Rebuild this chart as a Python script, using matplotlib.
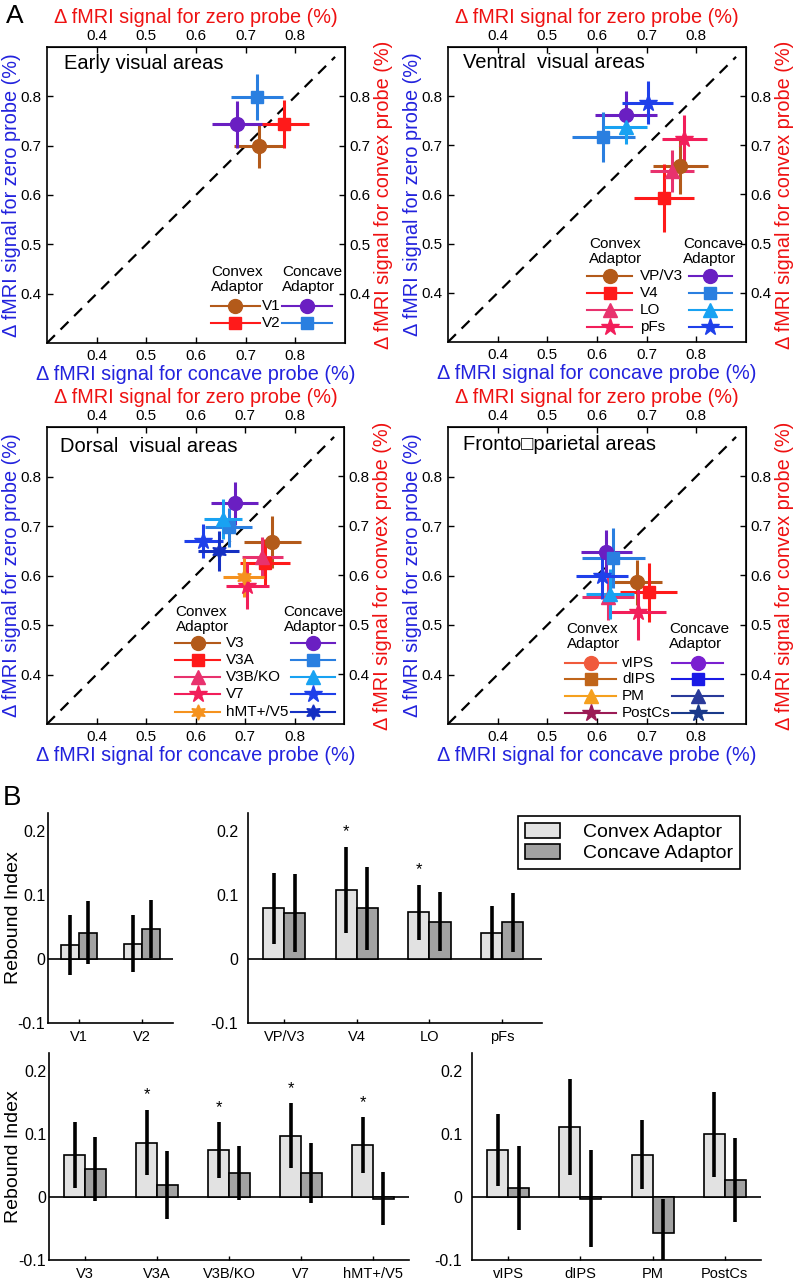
import numpy as np
import matplotlib
matplotlib.use("Agg")
import matplotlib.pyplot as plt
from matplotlib.patches import Patch

plt.rcParams["font.family"] = ["Liberation Sans", "DejaVu Sans"]
plt.rcParams["axes.unicode_minus"] = False

W, H = 795, 1280

# ---------------- panel A data ----------------
early_regions = ["V1", "V2"]
early_cvx_x = [0.727, 0.778]
early_cvx_y = [0.699, 0.744]
early_cvx_xerr = [0.050, 0.050]
early_cvx_yerr = [0.044, 0.049]
early_ccv_x = [0.682, 0.723]
early_ccv_y = [0.743, 0.799]
early_ccv_xerr = [0.050, 0.052]
early_ccv_yerr = [0.047, 0.047]

ventral_regions = ["VP/V3", "V4", "LO", "pFs"]
ventral_cvx_x = [0.768, 0.735, 0.751, 0.776]
ventral_cvx_y = [0.657, 0.593, 0.648, 0.712]
ventral_cvx_xerr = [0.055, 0.060, 0.045, 0.045]
ventral_cvx_yerr = [0.055, 0.070, 0.042, 0.049]
ventral_ccv_x = [0.658, 0.613, 0.658, 0.702]
ventral_ccv_y = [0.762, 0.717, 0.737, 0.787]
ventral_ccv_xerr = [0.063, 0.064, 0.043, 0.051]
ventral_ccv_yerr = [0.049, 0.051, 0.035, 0.044]

dorsal_regions = ["V3", "V3A", "V3B/KO", "V7", "hMT+/V5"]
dorsal_cvx_x = [0.755, 0.740, 0.735, 0.705, 0.697]
dorsal_cvx_y = [0.668, 0.625, 0.637, 0.579, 0.596]
dorsal_cvx_xerr = [0.058, 0.050, 0.042, 0.044, 0.041]
dorsal_cvx_yerr = [0.053, 0.048, 0.040, 0.047, 0.040]
dorsal_ccv_x = [0.679, 0.667, 0.655, 0.616, 0.647]
dorsal_ccv_y = [0.746, 0.697, 0.714, 0.670, 0.650]
dorsal_ccv_xerr = [0.047, 0.048, 0.038, 0.040, 0.041]
dorsal_ccv_yerr = [0.043, 0.040, 0.040, 0.034, 0.040]

fronto_regions = ["vIPS", "dIPS", "PM", "PostCs"]
fronto_cvx_x = [0.680, 0.704, 0.622, 0.682]
fronto_cvx_y = [0.586, 0.566, 0.556, 0.526]
fronto_cvx_xerr = [0.051, 0.058, 0.052, 0.056]
fronto_cvx_yerr = [0.045, 0.060, 0.045, 0.057]
fronto_ccv_x = [0.619, 0.633, 0.626, 0.610]
fronto_ccv_y = [0.647, 0.635, 0.563, 0.600]
fronto_ccv_xerr = [0.051, 0.063, 0.048, 0.053]
fronto_ccv_yerr = [0.045, 0.060, 0.050, 0.047]

# ---------------- panel B data ----------------
early_bar_labels = ["V1", "V2"]
early_bar_cvx = [0.022, 0.024]
early_bar_cvx_err = [0.047, 0.045]
early_bar_ccv = [0.041, 0.047]
early_bar_ccv_err = [0.049, 0.045]
early_bar_stars = [False, False]

ventral_bar_labels = ["VP/V3", "V4", "LO", "pFs"]
ventral_bar_cvx = [0.079, 0.108, 0.073, 0.041]
ventral_bar_cvx_err = [0.056, 0.067, 0.043, 0.041]
ventral_bar_ccv = [0.072, 0.079, 0.058, 0.057]
ventral_bar_ccv_err = [0.061, 0.065, 0.046, 0.046]
ventral_bar_stars = [False, True, True, False]

dorsal_bar_labels = ["V3", "V3A", "V3B/KO", "V7", "hMT+/V5"]
dorsal_bar_cvx = [0.066, 0.086, 0.074, 0.097, 0.082]
dorsal_bar_cvx_err = [0.052, 0.052, 0.044, 0.051, 0.044]
dorsal_bar_ccv = [0.044, 0.019, 0.038, 0.038, -0.003]
dorsal_bar_ccv_err = [0.051, 0.054, 0.043, 0.047, 0.042]
dorsal_bar_stars = [False, True, True, True, True]

fronto_bar_labels = ["vIPS", "dIPS", "PM", "PostCs"]
fronto_bar_cvx = [0.075, 0.111, 0.067, 0.099]
fronto_bar_cvx_err = [0.057, 0.076, 0.055, 0.067]
fronto_bar_ccv = [0.014, -0.003, -0.058, 0.027]
fronto_bar_ccv_err = [0.067, 0.077, 0.055, 0.067]
fronto_bar_stars = [False, False, False, False]

# ---------------- styles ----------------
brown, red, pink, crimson, orange = "#B35A1A", "#FF1A1A", "#E8326E", "#F21E5A", "#F5921E"
purple, medblue, ltblue, blue, dkblue = "#6A1FC2", "#2A7FE0", "#18A2F2", "#1F40EA", "#1530C2"
star6 = (6, 1, 0)
mk4 = ["o", "s", "^", "*"]
mk5 = ["o", "s", "^", "*", star6]
msz = {"o": 10, "s": 8.5, "^": 10, "*": 13, star6: 11}
lab_blue = "#2222DD"
lab_red = "#EE1111"
light_gray, dark_gray = "#E2E2E2", "#A2A2A2"
lab_fs, tick_fs, title_fs, leg_fs = 14.3, 11, 14.5, 11

fig = plt.figure(figsize=(W / 100, H / 100), dpi=100)


def px_axes(left, top, right, bottom):
    return fig.add_axes([left / W, 1 - bottom / H, (right - left) / W, (bottom - top) / H])


def scatter_panel(box, title, title_pos, regions, cvx, ccv, cvx_col, ccv_col, markers,
                  leg, leg_cvx_col=None, leg_ccv_col=None):
    ax = px_axes(*box)
    ax.set_xlim(0.3, 0.9)
    ax.set_ylim(0.3, 0.9)
    ticks = [0.4, 0.5, 0.6, 0.7, 0.8]
    ax.set_xticks(ticks)
    ax.set_yticks(ticks)
    ax.tick_params(direction="in", length=4, width=1, labelsize=tick_fs, pad=4)
    for s in ax.spines.values():
        s.set_linewidth(1.2)
    ax.plot([0.3, 0.88], [0.3, 0.88], color="black", lw=1.6, dashes=[5, 3.6])

    for data, cols in ((cvx, cvx_col), (ccv, ccv_col)):
        for i in range(len(regions)):
            m = markers[i]
            ax.errorbar(data[0][i], data[1][i], xerr=data[2][i], yerr=data[3][i], fmt="none",
                        ecolor=cols[i], elinewidth=2.2, capsize=0, zorder=3)
            ax.plot(data[0][i], data[1][i], marker=m, ms=msz[m], color=cols[i],
                    linestyle="none", zorder=4)

    ax.text(title_pos[0], title_pos[1], title, transform=ax.transAxes, fontsize=title_fs,
            va="center", ha="left")
    ax.set_xlabel("\u0394 fMRI signal for concave probe (%)", color=lab_blue, fontsize=lab_fs, labelpad=2)
    ax.set_ylabel("\u0394 fMRI signal for zero probe (%)", color=lab_blue, fontsize=lab_fs)
    ax.yaxis.set_label_coords(-0.086, 0.5)

    top = ax.secondary_xaxis("top")
    top.set_xticks(ticks)
    top.tick_params(direction="in", length=4, width=1, labelsize=tick_fs, pad=3)
    top.set_xlabel("\u0394 fMRI signal for zero probe (%)", color=lab_red, fontsize=lab_fs, labelpad=4)
    right = ax.secondary_yaxis("right")
    right.set_yticks(ticks)
    right.tick_params(direction="in", length=4, width=1, labelsize=tick_fs, pad=3)
    right.set_ylabel("\u0394 fMRI signal for convex probe (%)", color=lab_red, fontsize=lab_fs, labelpad=3)

    # legend drawn in axes coordinates
    lc = leg_cvx_col or cvx_col
    lk = leg_ccv_col or ccv_col
    ax.text(leg["cvx_head"], leg["head_y"], "Convex\nAdaptor", transform=ax.transAxes,
            fontsize=leg_fs, va="top", ha="left", linespacing=1.05)
    ax.text(leg["ccv_head"], leg["head_y"], "Concave\nAdaptor", transform=ax.transAxes,
            fontsize=leg_fs, va="top", ha="left", linespacing=1.05)
    for i, name in enumerate(regions):
        y = leg["row0"] - i * leg["dy"]
        m = markers[i]
        x0, x1 = leg["cvx_line"]
        ax.plot([x0, x1], [y, y], color=lc[i], lw=1.5, transform=ax.transAxes)
        ax.plot([(x0 + x1) / 2], [y], marker=m, ms=msz[m], color=lc[i], transform=ax.transAxes)
        ax.text(leg["label_x"], y, name, transform=ax.transAxes, fontsize=leg_fs, va="center", ha="left")
        x0, x1 = leg["ccv_line"]
        ax.plot([x0, x1], [y, y], color=lk[i], lw=1.5, transform=ax.transAxes)
        ax.plot([(x0 + x1) / 2], [y], marker=m, ms=msz[m], color=lk[i], transform=ax.transAxes)
    return ax


scatter_panel((47, 47, 345, 343), "Early visual areas", (0.057, 0.945), early_regions,
              (early_cvx_x, early_cvx_y, early_cvx_xerr, early_cvx_yerr),
              (early_ccv_x, early_ccv_y, early_ccv_xerr, early_ccv_yerr),
              [brown, red], [purple, medblue], mk4,
              dict(cvx_head=0.55, ccv_head=0.788, head_y=0.262, row0=0.126, dy=0.057,
                   cvx_line=(0.549, 0.715), label_x=0.72, ccv_line=(0.79, 0.958)))

scatter_panel((448, 47, 746, 342), "Ventral  visual areas", (0.05, 0.947), ventral_regions,
              (ventral_cvx_x, ventral_cvx_y, ventral_cvx_xerr, ventral_cvx_yerr),
              (ventral_ccv_x, ventral_ccv_y, ventral_ccv_xerr, ventral_ccv_yerr),
              [brown, red, pink, crimson], [purple, medblue, ltblue, blue], mk4,
              dict(cvx_head=0.473, ccv_head=0.789, head_y=0.356, row0=0.224, dy=0.058,
                   cvx_line=(0.468, 0.617), label_x=0.643, ccv_line=(0.808, 0.953)))

scatter_panel((47, 427, 344, 724), "Dorsal  visual areas", (0.043, 0.935), dorsal_regions,
              (dorsal_cvx_x, dorsal_cvx_y, dorsal_cvx_xerr, dorsal_cvx_yerr),
              (dorsal_ccv_x, dorsal_ccv_y, dorsal_ccv_xerr, dorsal_ccv_yerr),
              [brown, red, pink, crimson, orange], [purple, medblue, ltblue, blue, dkblue], mk5,
              dict(cvx_head=0.433, ccv_head=0.797, head_y=0.40, row0=0.273, dy=0.0578,
                   cvx_line=(0.430, 0.584), label_x=0.604, ccv_line=(0.820, 0.969)))

scatter_panel((448, 427, 746, 724), "Fronto\u25a1parietal areas", (0.05, 0.94), fronto_regions,
              (fronto_cvx_x, fronto_cvx_y, fronto_cvx_xerr, fronto_cvx_yerr),
              (fronto_ccv_x, fronto_ccv_y, fronto_ccv_xerr, fronto_ccv_yerr),
              [brown, red, pink, crimson], [purple, medblue, ltblue, blue], mk4,
              dict(cvx_head=0.398, ccv_head=0.741, head_y=0.342, row0=0.207, dy=0.057,
                   cvx_line=(0.394, 0.565), label_x=0.584, ccv_line=(0.752, 0.923)),
              leg_cvx_col=["#F05A3C", "#C0651A", "#F5A01E", "#9B1B55"],
              leg_ccv_col=["#7A20D0", "#1A1AE6", "#2A3A9A", "#1A3A8A"])

# ---------------- panel B ----------------
bar_w = 0.29


def bar_panel(box, labels, cvx, cvx_err, ccv, ccv_err, stars, xmax, ylabel, ypad, ylabel_x=None):
    ax = px_axes(*box)
    pos = np.arange(1, len(labels) + 1)
    cvx, cvx_err = np.array(cvx), np.array(cvx_err)
    ccv, ccv_err = np.array(ccv), np.array(ccv_err)
    ax.axhline(0, color="black", lw=1.2, zorder=1)
    ax.bar(pos - bar_w / 2, cvx, bar_w, color=light_gray, edgecolor="black", lw=1.2, zorder=2)
    ax.bar(pos + bar_w / 2, ccv, bar_w, color=dark_gray, edgecolor="black", lw=1.2, zorder=2)
    ax.vlines(pos - bar_w / 2, cvx - cvx_err, cvx + cvx_err, color="black", lw=2.6, zorder=3)
    ax.vlines(pos + bar_w / 2, ccv - ccv_err, ccv + ccv_err, color="black", lw=2.6, zorder=3)
    for i, s in enumerate(stars):
        if s:
            ax.text(pos[i] - bar_w / 2, cvx[i] + cvx_err[i] + 0.012, "*", ha="center",
                    va="bottom", fontsize=12)
    ax.set_xlim(0.5, xmax)
    ax.set_ylim(-0.1, 0.228)
    ax.set_xticks(pos)
    ax.set_xticklabels(labels, fontsize=10.5)
    ax.set_yticks([-0.1, 0, 0.1, 0.2])
    ax.set_yticklabels(["-0.1", "0", "0.1", "0.2"], fontsize=11.5)
    ax.tick_params(axis="x", direction="in", length=3, width=1, pad=5)
    ax.tick_params(axis="y", direction="in", length=0, pad=ypad)
    for side in ["top", "right"]:
        ax.spines[side].set_visible(False)
    for side in ["left", "bottom"]:
        ax.spines[side].set_linewidth(1.2)
    if ylabel:
        ax.set_ylabel("Rebound Index", fontsize=14)
        ax.yaxis.set_label_coords(ylabel_x, 0.5)
    return ax


bar_panel((48, 813, 173, 1023), early_bar_labels, early_bar_cvx, early_bar_cvx_err,
          early_bar_ccv, early_bar_ccv_err, early_bar_stars, 2.5, True, 2, ylabel_x=-0.205)
bar_panel((248, 813, 542, 1023), ventral_bar_labels, ventral_bar_cvx, ventral_bar_cvx_err,
          ventral_bar_ccv, ventral_bar_ccv_err, ventral_bar_stars, 4.55, False, 7)
bar_panel((49, 1053, 409, 1260), dorsal_bar_labels, dorsal_bar_cvx, dorsal_bar_cvx_err,
          dorsal_bar_ccv, dorsal_bar_ccv_err, dorsal_bar_stars, 5.5, True, 2, ylabel_x=-0.074)
bar_panel((472, 1053, 761, 1260), fronto_bar_labels, fronto_bar_cvx, fronto_bar_cvx_err,
          fronto_bar_ccv, fronto_bar_ccv_err, fronto_bar_stars, 4.5, False, 7)

handles = [Patch(facecolor=light_gray, edgecolor="black", lw=1.2),
           Patch(facecolor=dark_gray, edgecolor="black", lw=1.2)]
leg_b = fig.legend(handles, ["Convex Adaptor", "Concave Adaptor"], loc="upper left",
                   bbox_to_anchor=(518 / W, 1 - 816 / H), borderaxespad=0, fontsize=14,
                   frameon=True, fancybox=False, edgecolor="black", framealpha=1,
                   handlelength=1.8, handleheight=0.8, labelspacing=0.15, handletextpad=1.2,
                   borderpad=0.35)
leg_b.get_frame().set_linewidth(1.2)

fig.text(6 / W, 1 - 4 / H, "A", fontsize=19, va="top", ha="left")
fig.text(3 / W, 1 - 785 / H, "B", fontsize=20, va="top", ha="left")

fig.savefig("out.png", dpi=100)
